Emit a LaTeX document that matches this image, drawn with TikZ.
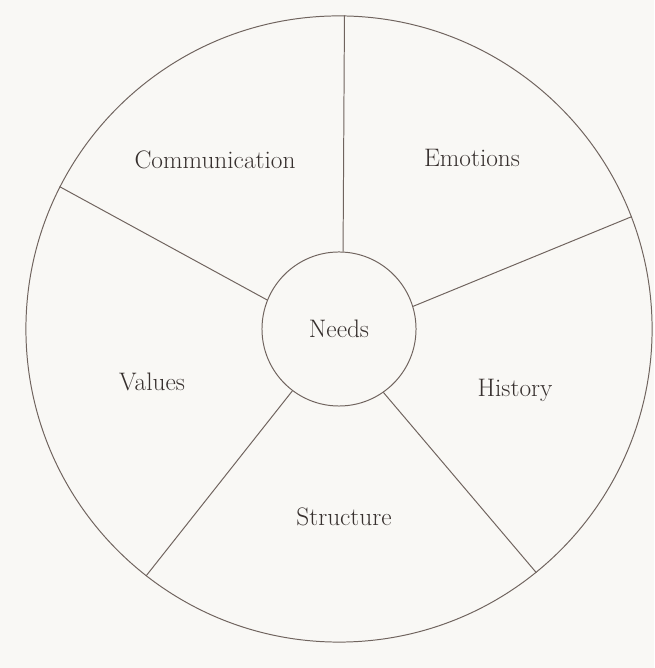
\documentclass[tikz,border=0pt]{standalone}
\usepackage{amsmath}
\usepackage{xcolor}
\usepackage{tikz}

\definecolor{paper}{RGB}{249,248,245}
\definecolor{rule}{RGB}{112,100,94}
\definecolor{ink}{RGB}{55,48,46}

\tikzset{
  wheel/.style={circle, draw=rule, line width=0.7pt, inner sep=0pt},
  lab/.style={text=ink, font=\fontsize{18}{22}\selectfont}
}

\begin{document}
\begin{tikzpicture}[x=0.025cm, y=0.025cm]
            \fill [paper] (0, 0) rectangle (654, 668);
            \useasboundingbox (0, 0) rectangle (654, 668);
            \node (rim) at (339, 339) [wheel, minimum size=15.65cm] {};
            \node (needs) at (339, 339) [wheel, lab, minimum size=3.85cm] {Needs};
            \node (comm) at (215, 508) [lab] {Communication};
            \node (emo) at (472, 510) [lab] {Emotions};
            \node (val) at (152, 286) [lab] {Values};
            \node (hist) at (515, 278) [lab] {History};
            \node (struct) at (344, 151) [lab] {Structure};
            \draw [rule, line width=0.7pt] (needs.87) edge (rim.89.3);
            \draw [rule, line width=0.7pt] (needs.17) edge (rim.21.5);
            \draw [rule, line width=0.7pt] (needs.158) edge (rim.153.5);
            \draw [rule, line width=0.7pt] (needs.233) edge (rim.232);
            \draw [rule, line width=0.7pt] (needs.305) edge (rim.309.5);
        \end{tikzpicture}
\end{document}
